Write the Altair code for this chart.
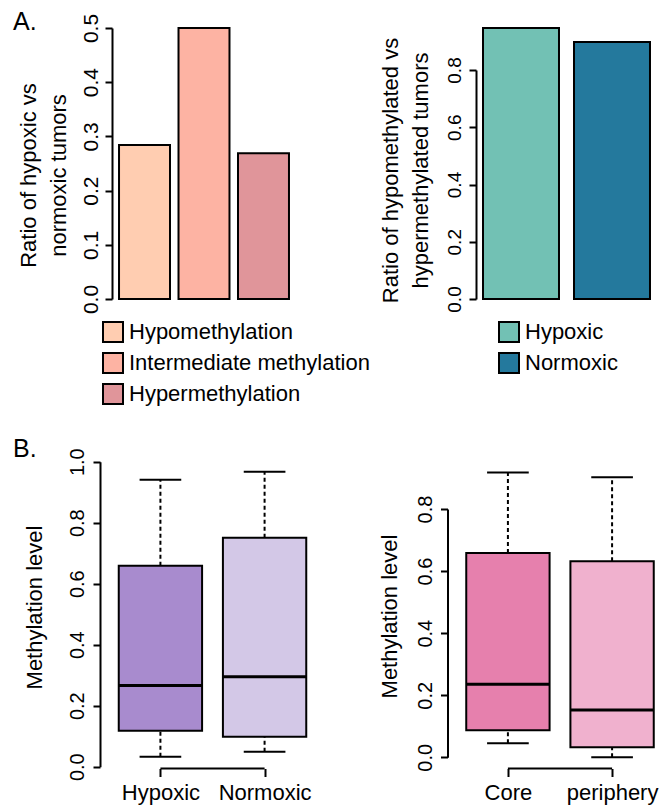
import json
import altair as alt
import pandas as pd

FONT = "Liberation Sans"

# ---------------- data ----------------
a1_groups = ["Hypomethylation", "Intermediate methylation", "Hypermethylation"]
a1_ratio = [0.284, 0.500, 0.269]
a1_colors = ["#FFCDB1", "#FDB3A3", "#E0959A"]
a1_ticks = [0.0, 0.1, 0.2, 0.3, 0.4, 0.5]
a1_title = ["Ratio of hypoxic vs", "normoxic tumors"]

a2_groups = ["Hypoxic", "Normoxic"]
a2_ratio = [0.947, 0.898]
a2_colors = ["#72C1B4", "#24799D"]
a2_ticks = [0.0, 0.2, 0.4, 0.6, 0.8]
a2_title = ["Ratio of hypomethylated vs", "hypermethylated tumors"]

b1_groups = ["Hypoxic", "Normoxic"]
b1_min = [0.033, 0.049]
b1_q1 = [0.118, 0.098]
b1_med = [0.266, 0.295]
b1_q3 = [0.659, 0.751]
b1_max = [0.941, 0.967]
b1_colors = ["#A88BCE", "#D3C8E7"]
b1_ticks = [0.0, 0.2, 0.4, 0.6, 0.8, 1.0]

b2_groups = ["Core", "periphery"]
b2_min = [0.045, 0.0]
b2_q1 = [0.087, 0.032]
b2_med = [0.235, 0.152]
b2_q3 = [0.658, 0.632]
b2_max = [0.918, 0.902]
b2_colors = ["#E680AD", "#F0B1CE"]
b2_ticks = [0.0, 0.2, 0.4, 0.6, 0.8]

W, H = 672, 810


def y_axis(ticks, axis_x, title, title_x, title_y, pad, size):
    return alt.Axis(
        orient="left", offset=-axis_x, values=ticks, format=".1f",
        labelAngle=270, labelAlign="center", labelBaseline="alphabetic",
        labelPadding=pad, labelFontSize=size, labelFont=FONT, labelColor="black",
        labelFlush=False, labelOverlap=False,
        tickSize=7, tickWidth=2, tickColor="black",
        domainWidth=2, domainColor="black", grid=False,
        title=title, titleFontSize=22, titleFont=FONT, titleFontWeight="normal",
        titleColor="black", titleAngle=270, titleAlign="center",
        titleBaseline="alphabetic", titleX=title_x, titleY=title_y,
        titleLineHeight=30,
    )


def legend(x, y):
    return alt.Legend(
        orient="none", legendX=x, legendY=y, title=None, symbolType="square",
        symbolSize=400, symbolStrokeColor="black", symbolStrokeWidth=2,
        symbolOpacity=1, labelFontSize=22, labelFont=FONT, labelColor="black",
        labelOffset=5, rowPadding=3, padding=0, labelLimit=400,
    )


# ---------------- panel A left ----------------
a1_df = pd.DataFrame({"group": a1_groups, "ratio": a1_ratio})
a1 = alt.Chart(a1_df).mark_bar(stroke="black", strokeWidth=2).encode(
    x=alt.X("group:N", sort=a1_groups, axis=None,
            scale=alt.Scale(domain=a1_groups, range=[112, 296],
                            paddingInner=0.143, paddingOuter=0.118)),
    y=alt.Y("ratio:Q",
            scale=alt.Scale(domain=[0, 0.5], range=[299, 28], nice=False),
            axis=y_axis(a1_ticks, 112, a1_title, -76.5, 175, 8, 21)),
    fill=alt.Fill("group:N", sort=a1_groups,
                  scale=alt.Scale(domain=a1_groups, range=a1_colors),
                  legend=legend(102, 321)),
)

# ---------------- panel A right ----------------
a2_df = pd.DataFrame({"group": a2_groups, "ratio": a2_ratio})
a2 = alt.Chart(a2_df).mark_bar(stroke="black", strokeWidth=2).encode(
    x=alt.X("group:N", sort=a2_groups, axis=None,
            scale=alt.Scale(domain=a2_groups, range=[476, 657],
                            paddingInner=0.165, paddingOuter=0.077)),
    y=alt.Y("ratio:Q",
            scale=alt.Scale(domain=[0, 0.8], range=[299, 70], nice=False),
            axis=y_axis(a2_ticks, 476, a2_title, -78.5, 170, 9, 19)),
    fill=alt.Fill("group:N", sort=a2_groups,
                  scale=alt.Scale(domain=a2_groups, range=a2_colors),
                  legend=legend(498, 321)),
)


# ---------------- box panels ----------------
def box_panel(groups, mn, q1, med, q3, mx, colors, ticks, x_range, y_dom, y_range,
              axis_x, title_x, title_y, pad):
    df = pd.DataFrame({
        "pos": list(range(1, len(groups) + 1)), "group": groups,
        "mn": mn, "q1": q1, "med": med, "q3": q3, "mx": mx, "color": colors,
    })

    def xs():
        return alt.Scale(domain=[0.42, len(groups) + 0.58], range=x_range,
                         nice=False, zero=False)

    def ys():
        return alt.Scale(domain=y_dom, range=y_range, nice=False, zero=False)

    lab_expr = json.dumps(groups) + "[datum.value - 1]"
    x_axis = alt.Axis(
        orient="bottom", offset=768.5 - H, values=list(range(1, len(groups) + 1)),
        labelExpr=lab_expr, domain=False, tickSize=8, tickWidth=2, tickColor="black",
        labelFontSize=22, labelFont=FONT, labelColor="black", labelBaseline="alphabetic",
        labelPadding=23, labelFlush=False, labelOverlap=False, grid=False, title=None,
    )
    base = alt.Chart(df).transform_calculate(
        lo="datum.pos - 0.4", hi="datum.pos + 0.4",
        cl="datum.pos - 0.2", ch="datum.pos + 0.2",
    )
    dash = [4, 3]
    box = base.mark_bar(stroke="black", strokeWidth=2).encode(
        x=alt.X("lo:Q", scale=xs(), axis=x_axis), x2="hi:Q",
        y=alt.Y("q1:Q", scale=ys(), axis=y_axis(ticks, axis_x, "Methylation level",
                                                title_x, title_y, pad, 20)),
        y2="q3:Q",
        fill=alt.Fill("color:N", scale=None),
    )
    up = base.mark_rule(color="black", strokeWidth=2, strokeDash=dash).encode(
        x=alt.X("pos:Q", scale=xs(), axis=None),
        y=alt.Y("q3:Q", scale=ys(), axis=None), y2="mx:Q")
    down = base.mark_rule(color="black", strokeWidth=2, strokeDash=dash).encode(
        x=alt.X("pos:Q", scale=xs(), axis=None),
        y=alt.Y("mn:Q", scale=ys(), axis=None), y2="q1:Q")
    cap_hi = base.mark_rule(color="black", strokeWidth=2).encode(
        x=alt.X("cl:Q", scale=xs(), axis=None), x2="ch:Q",
        y=alt.Y("mx:Q", scale=ys(), axis=None))
    cap_lo = base.mark_rule(color="black", strokeWidth=2).encode(
        x=alt.X("cl:Q", scale=xs(), axis=None), x2="ch:Q",
        y=alt.Y("mn:Q", scale=ys(), axis=None))
    median = base.mark_rule(color="black", strokeWidth=3).encode(
        x=alt.X("lo:Q", scale=xs(), axis=None), x2="hi:Q",
        y=alt.Y("med:Q", scale=ys(), axis=None))
    bracket_df = pd.DataFrame({"a": [1], "b": [len(groups)]})
    bracket = alt.Chart(bracket_df).mark_rule(color="black", strokeWidth=2).encode(
        x=alt.X("a:Q", scale=xs(), axis=None), x2="b:Q", y=alt.value(768.5))
    return [up, down, cap_hi, cap_lo, box, median, bracket]


b1 = box_panel(b1_groups, b1_min, b1_q1, b1_med, b1_q3, b1_max, b1_colors, b1_ticks,
               [100, 325], [0, 1.0], [766.7, 461.7], 100, -59, 607, 10)
b2 = box_panel(b2_groups, b2_min, b2_q1, b2_med, b2_q3, b2_max, b2_colors, b2_ticks,
               [447.5, 672.5], [0, 0.8], [757.3, 509], 447.5, -51.5, 616, 9)

# ---------------- panel letters ----------------
lab_a = alt.Chart(pd.DataFrame({"t": ["A."]})).mark_text(
    fontSize=25, font=FONT, align="left", baseline="alphabetic", color="black"
).encode(text="t:N", x=alt.value(13), y=alt.value(30))
lab_b = alt.Chart(pd.DataFrame({"t": ["B."]})).mark_text(
    fontSize=25, font=FONT, align="left", baseline="alphabetic", color="black"
).encode(text="t:N", x=alt.value(13), y=alt.value(457))

chart = alt.layer(a1, a2, *b1, *b2, lab_a, lab_b).resolve_scale(
    x="independent", y="independent", fill="independent"
).properties(
    width=W, height=H, autosize=alt.AutoSizeParams(type="none"), padding=0,
    background="white",
).configure(font=FONT).configure_view(strokeWidth=0)

chart.save("out.html", embed_options={"renderer": "svg", "actions": False})
